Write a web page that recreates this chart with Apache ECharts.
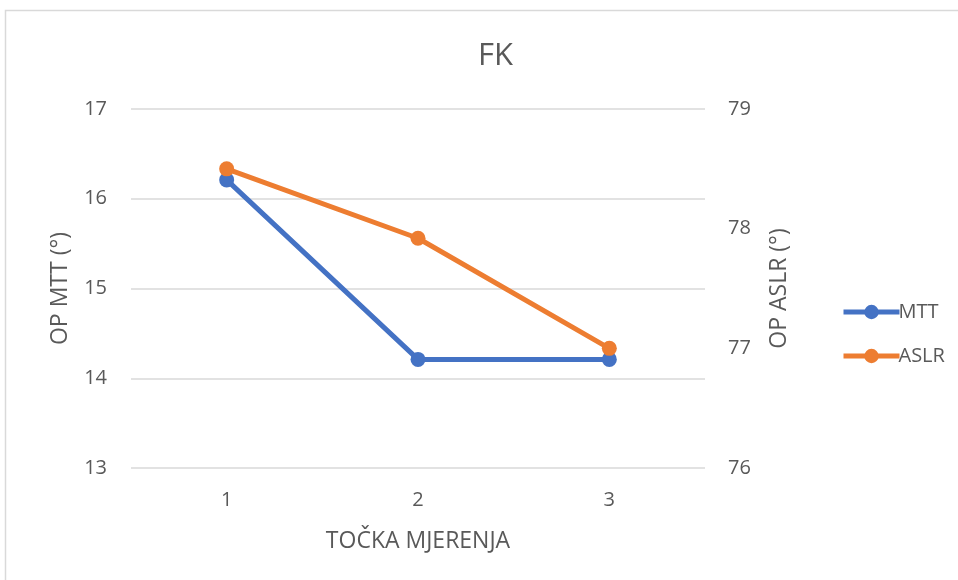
<!DOCTYPE html>
<html>
<head>
<meta charset="utf-8">
<script src="https://cdn.jsdelivr.net/npm/echarts@6/dist/echarts.min.js"></script>
<style>
  html, body { margin: 0; padding: 0; background: #fff; }
  #chart { width: 958px; height: 580px; }
</style>
</head>
<body>
<div id="chart"></div>
<script>
// data
var categories = ['1', '2', '3'];
var mttValues = [16.21, 14.21, 14.21];
var aslrValues = [78.5, 77.92, 77.0];

var textColor = '#595959';
var font = '"Open Sans", "Noto Sans", sans-serif';

var chart = echarts.init(document.getElementById('chart'));

chart.setOption({
      animation: false,
      textStyle: { fontFamily: font },
      // outer chart frame
      graphic: [{
            type: 'rect',
            shape: { x: 5.5, y: 10.5, width: 960, height: 580 },
            style: { fill: 'none', stroke: '#d9d9d9', lineWidth: 1.5 },
            silent: true
      }],
      title: {
            text: 'FK',
            left: 473,
            top: 36,
            textStyle: { color: textColor, fontSize: 31, fontWeight: 'normal', fontFamily: font }
      },
      legend: {
            orient: 'vertical',
            left: 836,
            top: 297,
            itemWidth: 56,
            itemHeight: 18,
            itemGap: 24,
            lineStyle: { width: 5 },
            textStyle: { color: textColor, fontSize: 20, fontFamily: font, padding: [0, 0, 0, -6] },
            data: ['MTT', 'ASLR']
      },
      grid: {
            left: 131,
            right: 253,
            top: 109,
            bottom: 112
      },
      xAxis: {
            type: 'category',
            data: categories,
            boundaryGap: true,
            axisLine: { show: false },
            axisTick: { show: false },
            axisLabel: { color: textColor, fontSize: 20, margin: 22, fontFamily: font },
            name: 'TOČKA MJERENJA',
            nameLocation: 'middle',
            nameGap: 62,
            nameTextStyle: { color: textColor, fontSize: 23, fontFamily: font }
      },
      yAxis: [
            {
                  type: 'value',
                  min: 13,
                  max: 17,
                  interval: 1,
                  axisLine: { show: false },
                  axisTick: { show: false },
                  axisLabel: { color: textColor, fontSize: 20, margin: 24, fontFamily: font },
                  splitLine: { lineStyle: { color: '#d9d9d9', width: 1.5 } },
                  name: 'OP MTT (°)',
                  nameLocation: 'middle',
                  nameGap: 59,
                  nameTextStyle: { color: textColor, fontSize: 23, fontFamily: font }
            },
            {
                  type: 'value',
                  min: 76,
                  max: 79,
                  interval: 1,
                  axisLine: { show: false },
                  axisTick: { show: false },
                  axisLabel: { color: textColor, fontSize: 20, margin: 23, fontFamily: font },
                  splitLine: { show: false },
                  name: 'OP ASLR (°)',
                  nameLocation: 'middle',
                  nameGap: 63,
                  nameTextStyle: { color: textColor, fontSize: 23, fontFamily: font }
            }
      ],
      series: [
            {
                  name: 'MTT',
                  type: 'line',
                  yAxisIndex: 0,
                  data: mttValues,
                  symbol: 'circle',
                  symbolSize: 15,
                  lineStyle: { color: '#4472C4', width: 5 },
                  itemStyle: { color: '#4472C4' }
            },
            {
                  name: 'ASLR',
                  type: 'line',
                  yAxisIndex: 1,
                  data: aslrValues,
                  symbol: 'circle',
                  symbolSize: 15,
                  lineStyle: { color: '#ED7D31', width: 5 },
                  itemStyle: { color: '#ED7D31' }
            }
      ]
});
</script>
</body>
</html>
